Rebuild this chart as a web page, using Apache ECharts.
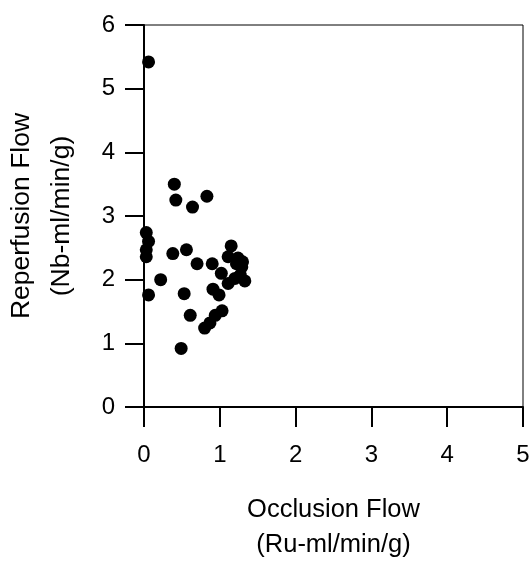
<!DOCTYPE html>
<html>
<head>
<meta charset="utf-8">
<script src="https://cdn.jsdelivr.net/npm/echarts@6/dist/echarts.min.js"></script>
<style>
html,body{margin:0;padding:0;background:#fff;}
#chart{width:532px;height:561px;}
</style>
</head>
<body>
<div id="chart"></div>
<script>
// 数据：闭塞血流 (x) 与 再灌注血流 (y)
var occlusionFlow = [0.06, 0.40, 0.42, 0.64, 0.83, 0.03, 0.06, 0.03, 0.03, 0.38, 0.56, 0.70, 0.90,
    0.22, 0.06, 0.53, 0.61, 0.49, 0.80, 0.87, 0.94, 1.03, 0.91, 0.99, 1.02, 1.11, 1.20,
    1.15, 1.11, 1.24, 1.29, 1.33, 1.22, 1.30, 1.27];
var reperfusionFlow = [5.42, 3.50, 3.25, 3.14, 3.31, 2.74, 2.60, 2.47, 2.36, 2.41, 2.47, 2.25, 2.25,
    2.00, 1.76, 1.78, 1.44, 0.92, 1.24, 1.32, 1.44, 1.51, 1.85, 1.76, 2.10, 1.94, 2.02,
    2.53, 2.36, 2.34, 2.20, 1.98, 2.25, 2.28, 2.07];
var xTicks = [0, 1, 2, 3, 4, 5];
var yTicks = [0, 1, 2, 3, 4, 5, 6];

var points = [];
for (var i = 0; i < occlusionFlow.length; i++) {
    points.push([occlusionFlow[i], reperfusionFlow[i]]);
}

var FONT = 'Liberation Sans, Arial, sans-serif';
var chart = echarts.init(document.getElementById('chart'), null, {renderer: 'canvas'});
chart.setOption({
    animation: false,
    grid: {
        left: 144, right: 9, top: 25, bottom: 154,
        containLabel: false,
        outerBoundsMode: 'none',
        show: true, borderColor: '#000', borderWidth: 1
    },
    xAxis: {
        type: 'value',
        min: xTicks[0], max: xTicks[xTicks.length - 1], interval: 1,
        name: 'Occlusion Flow\n(Ru-ml/min/g)',
        nameLocation: 'middle',
        nameGap: 85,
        nameTextStyle: {color: '#000', fontFamily: FONT, fontSize: 25.5, lineHeight: 35},
        axisLine: {show: true, onZero: false, lineStyle: {color: '#000', width: 2}},
        axisTick: {show: true, inside: false, length: 20, lineStyle: {color: '#000', width: 2}},
        axisLabel: {color: '#000', fontFamily: FONT, fontSize: 24, margin: 36},
        splitLine: {show: false}
    },
    yAxis: {
        type: 'value',
        min: yTicks[0], max: yTicks[yTicks.length - 1], interval: 1,
        name: 'Reperfusion Flow\n(Nb-ml/min/g)',
        nameLocation: 'middle',
        nameGap: 62,
        nameTextStyle: {color: '#000', fontFamily: FONT, fontSize: 26.5, lineHeight: 40},
        axisLine: {show: true, onZero: false, lineStyle: {color: '#000', width: 2}},
        axisTick: {show: true, inside: false, length: 19, lineStyle: {color: '#000', width: 2}},
        axisLabel: {color: '#000', fontFamily: FONT, fontSize: 24, margin: 29},
        splitLine: {show: false}
    },
    series: [{
        type: 'scatter',
        data: points,
        symbol: 'circle',
        symbolSize: 13,
        itemStyle: {color: '#000', opacity: 1}
    }]
});
</script>
</body>
</html>
